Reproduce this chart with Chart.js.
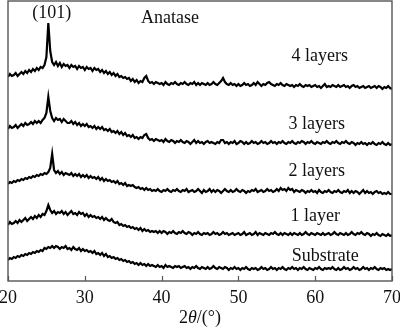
<!DOCTYPE html>
<html>
<head>
<meta charset="utf-8">
<script src="https://cdn.jsdelivr.net/npm/chart.js@4/dist/chart.umd.min.js"></script>
<style>
  html, body { margin: 0; padding: 0; background: #fff; }
  #wrap { width: 400px; height: 328px; }
</style>
</head>
<body>
<div id="wrap"><canvas id="c" width="400" height="328"></canvas></div>
<script>
// Diffraction angle grid: 20° to 70°, 0.25° step
const angleStart = 20, angleStep = 0.25, angleCount = 201;
const xTicks = [20, 30, 40, 50, 60, 70];

// Intensities (arbitrary units, curves already offset for stacking)
const layers4 = [
  204,207,205,206, 208,205,207,209, 207,210,208,211, 209,212,210,213, 211,214,213,216,
  224,258,230,219, 216,219,215,218, 214,217,215,216, 213,216,214,215, 212,215,213,214,
  211,214,212,213, 210,213,211,212, 209,211,208,210, 207,209,206,208, 205,207,204,205,
  203,204,202,203, 200,202,199,201, 198,200,199,203, 205,200,198,199, 197,199,198,197,
  198,196,199,197, 196,198,197,199, 197,196,198,197, 199,197,196,198, 197,199,196,198,
  196,198,197,196, 198,196,197,199, 197,196,198,200, 203,199,197,196, 198,196,197,195,
  197,195,196,198, 196,197,195,196, 198,196,199,197, 195,197,196,198, 199,197,196,195,
  197,196,198,196, 195,197,196,195, 196,194,196,195, 197,195,194,196, 195,196,194,195,
  196,194,195,193, 195,197,194,195, 194,196,195,194, 196,194,195,196, 194,195,193,195,
  196,194,195,193, 194,195,193,194, 195,193,194,195, 193,195,194,192, 194,193,195,193,
  192
];
const layers3 = [
  152,155,153,154, 156,153,155,157, 155,158,156,157, 159,157,160,158, 160,158,161,163,
  168,184,170,163, 160,163,161,162, 159,162,160,158, 158,160,157,159, 156,158,155,157,
  155,157,154,155, 153,155,152,154, 152,154,151,152, 150,152,149,150, 148,150,147,149,
  146,148,145,146, 144,146,143,144, 142,144,143,146, 147,143,141,142, 140,142,141,140,
  141,139,142,140, 139,141,140,138, 140,139,141,139, 138,140,139,137, 139,141,138,140,
  138,139,137,139, 140,138,139,138, 137,139,138,141, 141,138,139,137, 139,138,140,137,
  138,140,139,137, 139,137,138,140, 138,139,137,138, 140,138,139,137, 138,140,138,139,
  137,139,138,140, 138,137,139,138, 140,138,137,139, 138,140,139,137, 139,138,140,138,
  137,139,138,137, 139,138,140,138, 137,139,138,140, 138,137,139,138, 140,138,137,139,
  138,136,138,137, 139,137,138,136, 138,137,139,137, 136,138,137,139, 137,136,138,136,
  137
];
const layers2 = [
  97,99,98,100, 99,101,100,102, 101,103,102,104, 103,105,104,106, 105,107,106,108,
  107,109,113,127, 111,108,110,107, 109,106,108,107, 106,108,105,107, 105,107,104,106,
  104,106,103,105, 103,104,102,104, 101,103,100,102, 100,101,99,100, 98,100,97,98,
  96,98,95,96, 95,96,94,93, 94,92,93,91, 93,91,92,90, 91,90,92,90,
  89,91,90,92, 90,89,91,90, 92,90,89,91, 90,92,89,90, 91,89,90,92,
  90,88,91,89, 90,92,89,91, 89,91,90,88, 90,92,90,89, 91,89,90,92,
  90,89,91,90, 88,90,89,91, 90,92,89,90, 91,89,90,92, 90,91,89,90,
  92,90,93,91, 92,90,93,91, 92,89,91,90, 89,91,90,88, 90,89,91,89,
  90,88,91,89, 88,90,89,91, 89,88,90,89, 91,89,88,90, 89,91,88,90,
  88,90,89,87, 89,91,88,90, 88,89,87,89, 90,88,89,87, 88,87,89,87,
  87
];
const layers1 = [
  56,59,57,58, 60,58,61,59, 61,63,60,62, 64,62,65,63, 66,64,67,66,
  70,76,71,68, 70,67,69,68, 70,67,69,66, 68,70,67,68, 66,69,67,68,
  65,67,64,66, 64,65,63,64, 62,64,61,63, 61,60,62,59, 58,59,56,57,
  55,56,54,55, 53,54,52,53, 51,53,50,52, 50,51,49,50, 49,50,48,50,
  48,50,49,47, 49,48,50,48, 47,49,48,50, 48,47,49,48, 46,48,47,49,
  47,46,48,47, 48,46,47,49, 47,48,46,47, 49,47,48,46, 47,48,46,47,
  48,46,47,49, 46,47,48,46, 47,49,46,48, 47,46,48,47, 46,48,47,49,
  47,46,48,46, 48,47,46,48, 46,48,47,46, 48,46,47,49, 47,46,48,47,
  46,48,47,46, 48,46,47,48, 46,47,49,47, 46,48,47,46, 48,46,47,49,
  47,46,48,47, 49,47,46,48, 47,45,47,46, 48,46,45,47, 46,45,47,45,
  46
];
const substrate = [
  21,23,22,24, 23,25,24,26, 25,27,26,28, 27,29,28,30, 29,31,30,33,
  32,34,33,35, 33,35,34,32, 34,33,35,32, 33,31,34,32, 31,33,30,32,
  30,31,29,30, 28,30,27,28, 26,28,25,27, 24,25,23,24, 22,23,21,22,
  20,21,19,20, 18,19,17,18, 16,18,16,17, 15,17,15,16, 15,14,16,14,
  15,13,16,14, 15,14,13,15, 14,15,13,14, 15,13,14,12, 14,13,15,13,
  12,14,13,12, 14,12,13,15, 13,12,14,13, 12,14,13,11, 13,12,14,12,
  13,11,13,12, 14,12,11,13, 12,13,11,12, 14,12,13,11, 12,14,12,13,
  11,13,12,14, 12,11,13,12, 14,12,13,11, 13,12,14,12, 11,13,12,11,
  13,12,14,12, 11,13,12,13, 12,14,12,11, 13,11,12,14, 12,13,11,12,
  14,12,13,11, 12,14,12,13, 11,13,12,14, 12,11,13,12, 13,11,12,11,
  12
];

const seriesNames = ['4 layers', '3 layers', '2 layers', '1 layer', 'Substrate'];
const seriesValues = [layers4, layers3, layers2, layers1, substrate];

// Text annotations: [text, angle, intensity]
const curveLabels = [
  ['4 layers', 60.6, 225],
  ['3 layers', 60.2, 157],
  ['2 layers', 60.2, 110],
  ['1 layer', 60.0, 65],
  ['Substrate', 61.3, 25]
];
const peakLabel = ['(101)', 25.7, 268];
const phaseLabel = ['Anatase', 41.1, 263];

const angles = [];
for (let i = 0; i < angleCount; i++) angles.push(angleStart + i * angleStep);

const toPoints = vals => vals.map((v, i) => ({ x: angles[i], y: v }));

const SERIF = '"Liberation Serif", "Times New Roman", serif';
const FS = 18;

const decorations = {
  id: 'decorations',
  afterDraw(chart) {
    const { ctx, chartArea: a, scales: { x, y } } = chart;
    ctx.save();
    // frame
    ctx.strokeStyle = '#555';
    ctx.lineWidth = 1.4;
    ctx.strokeRect(a.left, a.top, a.right - a.left, a.bottom - a.top);
    // inward ticks on the bottom axis
    ctx.lineWidth = 1.2;
    xTicks.forEach(t => {
      const px = Math.round(x.getPixelForValue(t)) + 0.5;
      ctx.beginPath();
      ctx.moveTo(px, a.bottom);
      ctx.lineTo(px, a.bottom - 5);
      ctx.stroke();
    });
    // curve and peak labels
    ctx.fillStyle = '#111';
    ctx.textAlign = 'center';
    ctx.textBaseline = 'middle';
    ctx.font = FS + 'px ' + SERIF;
    curveLabels.concat([peakLabel, phaseLabel]).forEach(([t, ax, iy]) => {
      ctx.fillText(t, x.getPixelForValue(ax), y.getPixelForValue(iy));
    });
    // axis title: 2θ/(°)
    const parts = [
      ['2', FS + 'px ' + SERIF],
      ['\u03B8', 'italic ' + FS + 'px ' + SERIF],
      ['/(\u00B0)', FS + 'px ' + SERIF]
    ];
    let w = 0;
    parts.forEach(([s, f]) => { ctx.font = f; w += ctx.measureText(s).width; });
    let cx = (a.left + a.right) / 2 - w / 2;
    ctx.textAlign = 'left';
    ctx.textBaseline = 'alphabetic';
    parts.forEach(([s, f]) => {
      ctx.font = f;
      ctx.fillText(s, cx, 323);
      cx += ctx.measureText(s).width;
    });
    ctx.restore();
  }
};

new Chart(document.getElementById('c'), {
  type: 'line',
  data: {
    datasets: seriesValues.map((vals, k) => ({
      label: seriesNames[k],
      data: toPoints(vals),
      borderColor: '#000',
      borderWidth: 2.2,
      pointRadius: 0,
      tension: 0,
      fill: false
    }))
  },
  options: {
    responsive: false,
    animation: false,
    devicePixelRatio: 1,
    layout: { autoPadding: false, padding: { left: 8, right: 8, top: 1, bottom: 0 } },
    plugins: { legend: { display: false }, tooltip: { enabled: false } },
    scales: {
      x: {
        type: 'linear',
        min: 20,
        max: 70,
        afterBuildTicks: s => { s.ticks = xTicks.map(v => ({ value: v })); },
        afterFit: s => { s.height = 47; s.paddingLeft = 0; s.paddingRight = 0; },
        grid: { display: false, drawTicks: false },
        border: { display: false },
        ticks: {
          color: '#111',
          font: { family: SERIF, size: FS },
          padding: 6,
          maxRotation: 0,
          autoSkip: false
        }
      },
      y: {
        display: false,
        min: 0,
        max: 280
      }
    }
  },
  plugins: [decorations]
});
</script>
</body>
</html>
